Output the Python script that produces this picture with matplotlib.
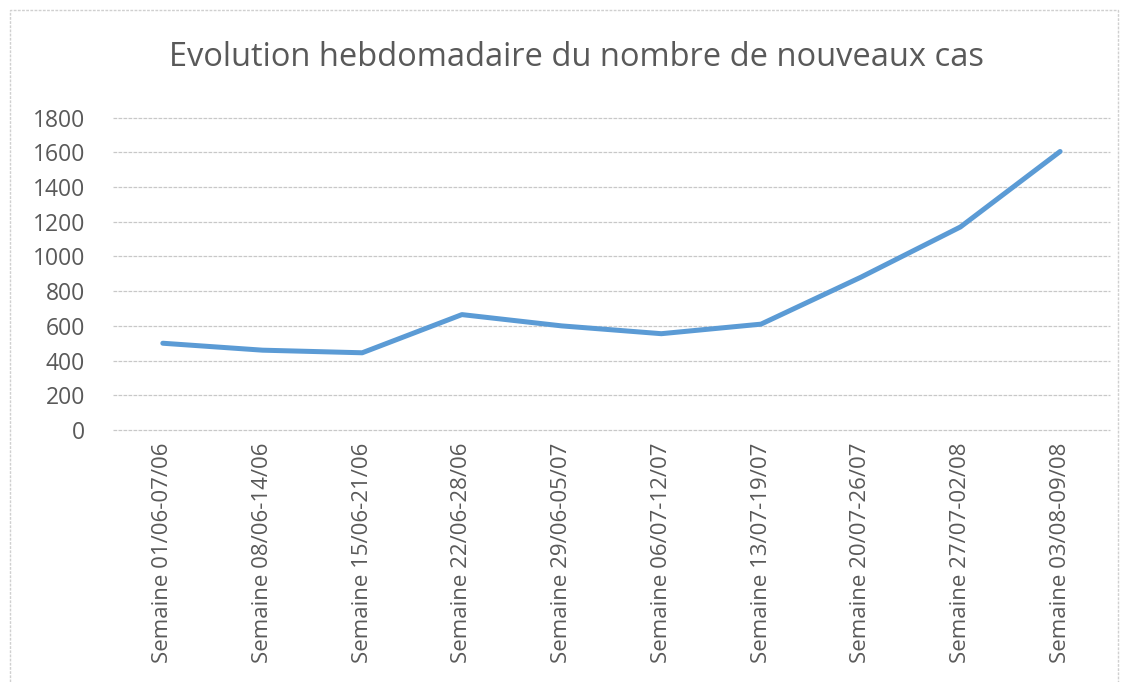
import matplotlib.pyplot as plt
from matplotlib.patches import Rectangle

# weekly new cases
weeks = ['Semaine 01/06-07/06', 'Semaine 08/06-14/06', 'Semaine 15/06-21/06',
         'Semaine 22/06-28/06', 'Semaine 29/06-05/07', 'Semaine 06/07-12/07',
         'Semaine 13/07-19/07', 'Semaine 20/07-26/07', 'Semaine 27/07-02/08',
         'Semaine 03/08-09/08']
cases = [500, 460, 445, 665, 600, 555, 610, 880, 1170, 1605]
yticks = [0, 200, 400, 600, 800, 1000, 1200, 1400, 1600, 1800]

plt.rcParams['font.family'] = ['Open Sans', 'DejaVu Sans']
grey = '#595959'

fig = plt.figure(figsize=(11.24, 6.82), dpi=100)
ax = fig.add_axes([0.1005, 0.3695, 0.887, 0.458])

# chart frame
fig.patches.append(Rectangle((10/1124, -0.01), 1108/1124, 1 - 10/682 + 0.01,
                             transform=fig.transFigure, fill=False,
                             edgecolor='#d0d0d0', linewidth=1, linestyle=(0, (2, 1))))

x = list(range(len(weeks)))
ax.plot(x, cases, color='#5b9bd5', linewidth=3.6, solid_joinstyle='round',
        solid_capstyle='round', zorder=3)

ax.set_xlim(-0.5, len(weeks) - 0.5)
ax.set_ylim(0, 1800)
ax.set_yticks(yticks)
ax.set_xticks(x)
ax.set_xticklabels(weeks, rotation=90, fontsize=16, color=grey)
ax.tick_params(axis='y', labelsize=16.5, colors=grey, length=0, pad=20)
ax.tick_params(axis='x', length=0, pad=9)

ax.grid(axis='y', color='#c8c8c8', linewidth=0.9, linestyle=(0, (3, 1)))
for gl in ax.get_ygridlines():
    gl.set_clip_on(False)
for s in ax.spines.values():
    s.set_visible(False)

fig.text(0.5125, 1 - 57/682, 'Evolution hebdomadaire du nombre de nouveaux cas',
         ha='center', va='center', fontsize=23.5, color=grey)

fig.savefig('out.png', dpi=100)
